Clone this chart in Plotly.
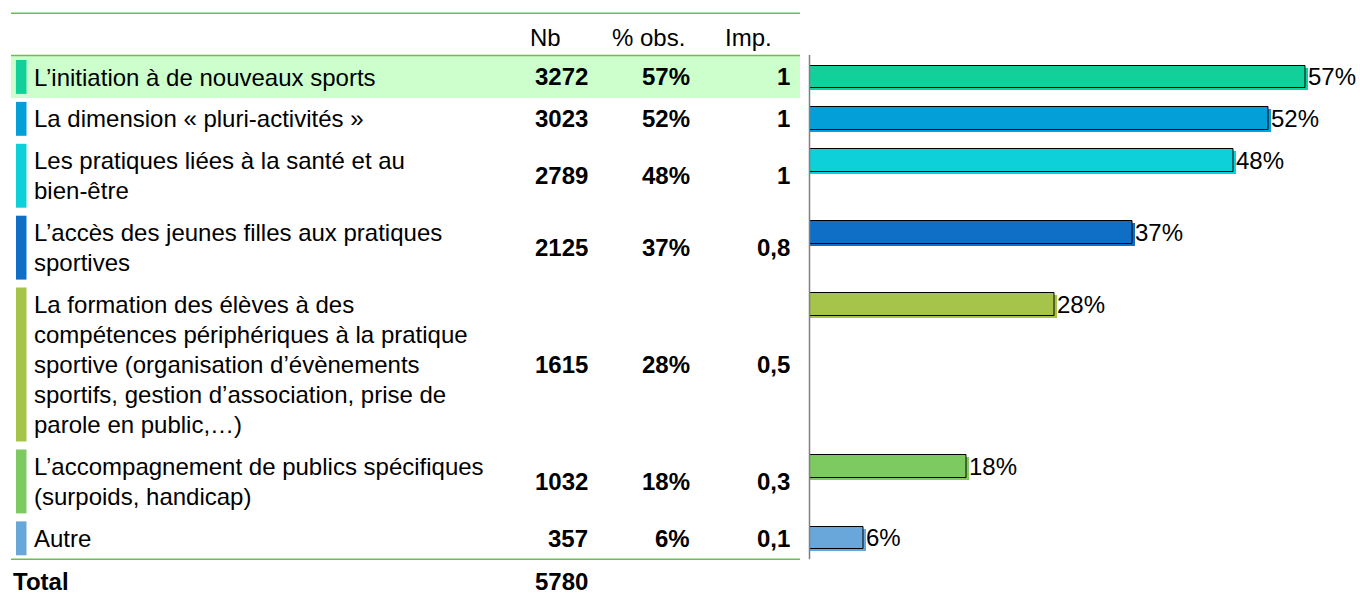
import plotly.graph_objects as go

# ---------------- data ----------------
labels = [
    "L’initiation à de nouveaux sports",
    "La dimension « pluri-activités »",
    "Les pratiques liées à la santé et au<br>bien-être",
    "L’accès des jeunes filles aux pratiques<br>sportives",
    "La formation des élèves à des<br>compétences périphériques à la pratique<br>sportive (organisation d’évènements<br>sportifs, gestion d’association, prise de<br>parole en public,…)",
    "L’accompagnement de publics spécifiques<br>(surpoids, handicap)",
    "Autre",
]
nb = [3272, 3023, 2789, 2125, 1615, 1032, 357]
pct = [56.6, 52.3, 48.3, 36.8, 27.9, 17.9, 6.2]
pct_labels = ["57%", "52%", "48%", "37%", "28%", "18%", "6%"]
imp = ["1", "1", "1", "0,8", "0,5", "0,3", "0,1"]
total_label = "Total"
total_nb = 5780
headers = ["Nb", "% obs.", "Imp."]

colors = ["#12d09a", "#039fd8", "#0dd0d8", "#0f6fc6", "#a6c34a", "#7dcb60", "#69a7db"]

# ---------------- layout geometry (pixels) ----------------
W, H = 1360, 594
FONT = "Liberation Sans, Arial, sans-serif"
FS = 24
LINE_H = 30.0
ROW_PAD = 11.9
TABLE_TOP = 56.0
TABLE_L, TABLE_R = 11, 800
AXIS_X = 809.5
PX_PER_PCT = 8.77
GREEN = "#6cc04a"

def px(x):
    return x / W

n_lines = [lab.count("<br>") + 1 for lab in labels]
row_tops, row_h = [], []
t = TABLE_TOP
for n in n_lines:
    row_tops.append(t)
    h = LINE_H * n + ROW_PAD
    row_h.append(h)
    t += h
table_bottom = t

bar_thick = 22.5
bar_centers = [rt + 9.5 + bar_thick / 2 for rt in row_tops]
row_centers = [rt + h / 2 for rt, h in zip(row_tops, row_h)]

fig = go.Figure()

# shadow bars (offset 2px right/down)
fig.add_trace(go.Bar(
    x=[v + 2 / PX_PER_PCT for v in pct],
    y=[c + 2 for c in bar_centers],
    width=bar_thick, orientation="h",
    marker=dict(color=colors, line=dict(width=0)),
    hoverinfo="skip", showlegend=False,
))
# main bars
fig.add_trace(go.Bar(
    x=pct, y=bar_centers, width=bar_thick, orientation="h",
    marker=dict(color=colors, line=dict(color="black", width=1)),
    text=pct_labels, textposition="outside", constraintext="none",
    textfont=dict(family=FONT, size=FS, color="black"),
    cliponaxis=False, hoverinfo="skip", showlegend=False,
))

shapes = []
annotations = []

# row 1 highlight
shapes.append(dict(type="rect", xref="paper", yref="y",
                   x0=px(TABLE_L), x1=px(TABLE_R),
                   y0=row_tops[0], y1=row_tops[0] + row_h[0],
                   fillcolor="#ccffcc", line=dict(width=0), layer="below"))
# green rules
for yy in [13.3, TABLE_TOP - 0.5, table_bottom]:
    shapes.append(dict(type="line", xref="paper", yref="y",
                       x0=px(TABLE_L), x1=px(TABLE_R), y0=yy, y1=yy,
                       line=dict(color=GREEN, width=1.5)))
# axis line
shapes.append(dict(type="line", xref="paper", yref="y",
                   x0=px(AXIS_X), x1=px(AXIS_X), y0=TABLE_TOP - 1, y1=table_bottom,
                   line=dict(color="#7f7f7f", width=1.5)))

# headers
for htxt, hx in zip(headers, [528, 610, 723]):
    annotations.append(dict(text=htxt, xref="paper", yref="y", x=px(hx), y=37,
                            xanchor="left", yanchor="middle", showarrow=False,
                            font=dict(family=FONT, size=FS, color="black")))

for i, lab in enumerate(labels):
    rt, h = row_tops[i], row_h[i]
    # color strip
    shapes.append(dict(type="rect", xref="paper", yref="y",
                       x0=px(16), x1=px(26.5), y0=rt + 4, y1=rt + h - 4,
                       fillcolor=colors[i], line=dict(width=0)))
    # label lines
    for k, line in enumerate(lab.split("<br>")):
        annotations.append(dict(text=line, xref="paper", yref="y",
                                x=px(32), y=rt + 21 + LINE_H * k,
                                xanchor="left", yanchor="middle", showarrow=False,
                                font=dict(family=FONT, size=FS, color="black")))
    # numbers
    for val, rx in zip([str(nb[i]), pct_labels[i], imp[i]], [590, 692, 792]):
        annotations.append(dict(text="<b>" + val + "</b>", xref="paper", yref="y",
                                x=px(rx), y=row_centers[i],
                                xanchor="right", yanchor="middle", showarrow=False,
                                font=dict(family=FONT, size=FS, color="black")))

# total row
annotations.append(dict(text="<b>" + total_label + "</b>", xref="paper", yref="y",
                        x=px(11), y=581, xanchor="left", yanchor="middle", showarrow=False,
                        font=dict(family=FONT, size=FS, color="black")))
annotations.append(dict(text="<b>" + str(total_nb) + "</b>", xref="paper", yref="y",
                        x=px(590), y=581, xanchor="right", yanchor="middle", showarrow=False,
                        font=dict(family=FONT, size=FS, color="black")))

fig.update_layout(
    width=W, height=H, autosize=False,
    margin=dict(l=0, r=0, t=0, b=0, pad=0),
    paper_bgcolor="white", plot_bgcolor="rgba(0,0,0,0)",
    barmode="overlay", bargap=0,
    xaxis=dict(domain=[px(AXIS_X), 1], range=[0, (W - AXIS_X) / PX_PER_PCT],
               visible=False, fixedrange=True),
    yaxis=dict(domain=[0, 1], range=[H, 0], visible=False, fixedrange=True),
    shapes=shapes, annotations=annotations,
    font=dict(family=FONT),
)

fig.write_html("out.html", config={"displayModeBar": False},
               post_script="document.body.style.margin='0';document.body.style.overflow='hidden';")
